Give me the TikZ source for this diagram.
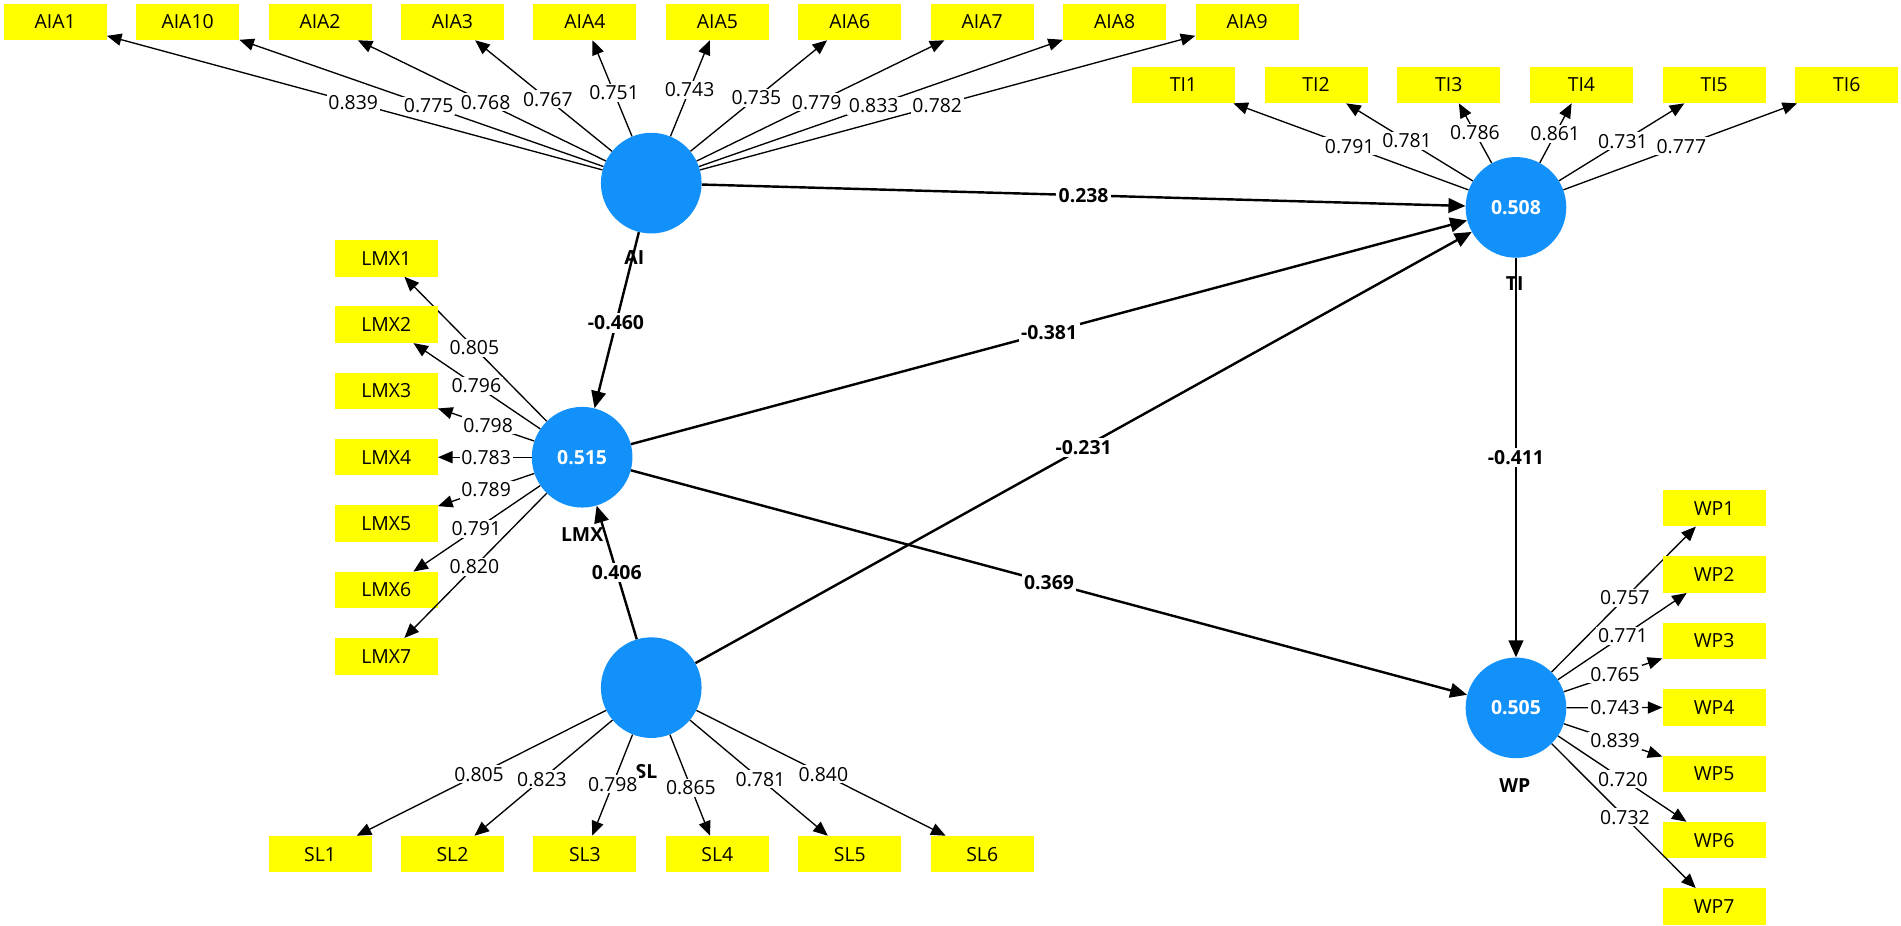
\documentclass[tikz,border=0pt]{standalone}
\usepackage{fontspec}
\setmainfont{Open Sans}
\usetikzlibrary{arrows.meta,calc}
\definecolor{lvblue}{RGB}{18,145,250}
\definecolor{indyel}{RGB}{255,255,0}
\begin{document}
\begin{tikzpicture}[x=1pt,y=-1pt,
  lv/.style={circle,fill=lvblue,minimum size=83pt,inner sep=0pt,text=white,font=\fontsize{16}{18}\selectfont\bfseries},
  ind/.style={fill=indyel,minimum width=85pt,minimum height=30pt,inner sep=0pt,font=\fontsize{16}{18}\selectfont},
  load/.style={line width=1.1pt,-{Triangle[length=12pt,width=10pt]}},
  pth/.style={line width=2pt,-{Triangle[length=14pt,width=12pt]}},
  lbl/.style={fill=white,inner sep=1.5pt,font=\fontsize{16}{18}\selectfont},
  plbl/.style={fill=white,inner sep=2pt,font=\fontsize{16}{18}\selectfont\bfseries},
  lvname/.style={font=\fontsize{16}{18}\selectfont\bfseries}]
\useasboundingbox[fill=white] (0,0) rectangle (1567.5,763.5);

% latent variables
\node[lv] (AI)  at (537,151) {};
\node[lv] (LMX) at (480,377) {0.515};
\node[lv] (SL)  at (537,567) {};
\node[lv] (TI)  at (1250,171) {0.508};
\node[lv] (WP)  at (1250,583.7) {0.505};

% latent names
\node[lvname] (AIname)  at (523,212) {AI};
\node[lvname] (LMXname) at (480,441) {LMX};
\node[lvname] (SLname)  at (533,636) {SL};
\node[lvname] (TIname)  at (1249,234) {TI};
\node[lvname] (WPname)  at (1249,648) {WP};

% AI indicators
\foreach \n/\x/\v/\t in {AIA1/45.5/0.839/0.5, AIA10/154.7/0.775/0.48, AIA2/263.9/0.768/0.5,
  AIA3/373.1/0.767/0.52, AIA4/482.3/0.751/0.56, AIA5/591.5/0.743/0.58, AIA6/700.7/0.735/0.53,
  AIA7/809.9/0.779/0.5, AIA8/919.1/0.833/0.48, AIA9/1028.3/0.782/0.48}{
  \node[ind] (\n) at (\x,18) {\n};
  \draw[load] (AI) -- (\n);
  \node[lbl] at ($(AI.center)!\t!(\n.center)$) {\v};
}

% TI indicators
\foreach \n/\x/\v/\t in {TI1/975.8/0.791/0.5, TI2/1085.2/0.781/0.545, TI3/1194.6/0.786/0.61,
  TI4/1304/0.861/0.6, TI5/1413.4/0.731/0.54, TI6/1522.8/0.777/0.5}{
  \node[ind] (\n) at (\x,70) {\n};
  \draw[load] (TI) -- (\n);
  \node[lbl] at ($(TI.center)!\t!(\n.center)$) {\v};
}

% LMX indicators
\foreach \n/\y/\v/\t in {LMX1/213/0.805/0.55, LMX2/267.7/0.796/0.54, LMX3/322.4/0.798/0.48,
  LMX4/377/0.783/0.49, LMX5/431.8/0.789/0.49, LMX6/486.5/0.791/0.54, LMX7/541.2/0.820/0.55}{
  \node[ind] (\n) at (318.5,\y) {\n};
  \draw[load] (LMX) -- (\n);
  \node[lbl] at ($(LMX.center)!\t!(\n.center)$) {\v};
}

% SL indicators
\foreach \n/\x/\v/\t in {SL1/263.9/0.805/0.52, SL2/373.1/0.823/0.55, SL3/482.3/0.798/0.58,
  SL4/591.5/0.865/0.6, SL5/700.7/0.781/0.55, SL6/809.9/0.840/0.52}{
  \node[ind] (\n) at (\x,704.3) {\n};
  \draw[load] (SL) -- (\n);
  \node[lbl] at ($(SL.center)!\t!(\n.center)$) {\v};
}

% WP indicators
\foreach \n/\y/\v/\t in {WP1/419/0.757/0.55, WP2/473.75/0.771/0.54, WP3/528.5/0.765/0.5,
  WP4/583.25/0.743/0.5, WP5/638/0.839/0.5, WP6/692.75/0.720/0.54, WP7/747.5/0.732/0.55}{
  \node[ind] (\n) at (1413.4,\y) {\n};
  \draw[load] (WP) -- (\n);
  \node[lbl] at ($(WP.center)!\t!(\n.center)$) {\v};
}

% structural paths
\draw[pth] (AI) -- (TI);
\draw[pth] (AI) -- (LMX);
\draw[pth] (LMX) -- (TI);
\draw[pth] (SL) -- (TI);
\draw[pth] (SL) -- (LMX);
\draw[pth] (LMX) -- (WP);
\draw[pth] (TI) -- (WP);

\node[plbl] at ($(AI.center)!0.5!(TI.center)$) {0.238};
\node[plbl] at ($(AI.center)!0.51!(LMX.center)$) {-0.460};
\node[plbl] at ($(LMX.center)!0.5!(TI.center)$) {-0.381};
\node[plbl] at ($(SL.center)!0.5!(TI.center)$) {-0.231};
\node[plbl] at ($(SL.center)!0.5!(LMX.center)$) {0.406};
\node[plbl] at ($(LMX.center)!0.5!(WP.center)$) {0.369};
\node[plbl] at ($(TI.center)!0.5!(WP.center)$) {-0.411};
\end{tikzpicture}
\end{document}
